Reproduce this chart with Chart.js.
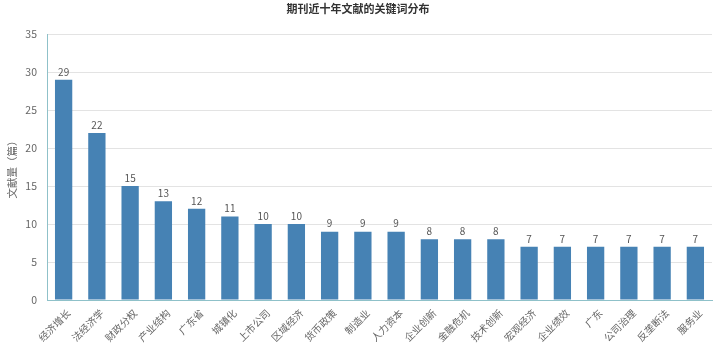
<!DOCTYPE html>
<html><head><meta charset="utf-8">
<script src="https://cdn.jsdelivr.net/npm/chart.js@4"></script>
<style>html,body{margin:0;padding:0;background:#fff}#wrap{width:720px;height:355px}</style>
</head><body><div id="wrap"><canvas id="c"></canvas></div>
<script>
const categories = ["经济增长","法经济学","财政分权","产业结构","广东省","城镇化","上市公司","区域经济","货币政策","制造业","人力资本","企业创新","金融危机","技术创新","宏观经济","企业绩效","广东","公司治理","反垄断法","服务业"];
const counts = [29,22,15,13,12,11,10,10,9,9,9,8,8,8,7,7,7,7,7,7];
const yTicks = [0,5,10,15,20,25,30,35];
const FONT = "'Noto Sans CJK SC','Noto Sans',sans-serif";

const labelPlugin = {
  id: 'barLabels',
  afterDatasetsDraw(chart) {
    const ctx = chart.ctx;
    const meta = chart.getDatasetMeta(0);
    ctx.save();
    ctx.font = "10px " + FONT;
    ctx.fillStyle = '#555';
    ctx.textAlign = 'center';
    ctx.textBaseline = 'bottom';
    meta.data.forEach((bar, i) => {
      ctx.fillText(String(counts[i]), bar.x, bar.y - 3);
    });
    ctx.restore();
  }
};

new Chart(document.getElementById('c'), {
  type: 'bar',
  data: {
    labels: categories,
    datasets: [{ data: counts, backgroundColor: '#4682b4', barPercentage: 0.52, categoryPercentage: 1 }]
  },
  options: {
    responsive: true, maintainAspectRatio: false, animation: false,
    layout: { padding: { left: 4, right: 8, top: 0, bottom: 0 } },
    plugins: {
      legend: { display: false },
      tooltip: { enabled: false },
      title: { display: true, text: '期刊近十年文献的关键词分布', color: '#333', font: { family: FONT, size: 11, weight: 'bold' }, padding: { top: 2, bottom: 19 } }
    },
    scales: {
      x: {
        afterFit(axis) { axis.height = 55; },
        grid: { display: false, drawOnChartArea: false, drawTicks: true, tickLength: 5, color: '#8fc1c9' },
        border: { color: '#8fc1c9' },
        ticks: { color: '#666', font: { family: FONT, size: 10 }, maxRotation: 45, minRotation: 45, autoSkip: false, padding: 2, labelOffset: 5 }
      },
      y: {
        min: 0, max: 35,
        afterFit(axis) { axis.width = 43; },
        afterBuildTicks(axis) { axis.ticks = yTicks.map(v => ({ value: v })); },
        grid: { color: '#e3e3e3', drawTicks: false },
        border: { color: '#8fc1c9', display: true },
        ticks: { color: '#666', font: { family: FONT, size: 10.5 }, padding: 10 },
        title: { display: true, text: '文献量（篇）', color: '#666', font: { family: FONT, size: 10.5 }, padding: 2 }
      }
    }
  },
  plugins: [labelPlugin]
});
</script></body></html>
